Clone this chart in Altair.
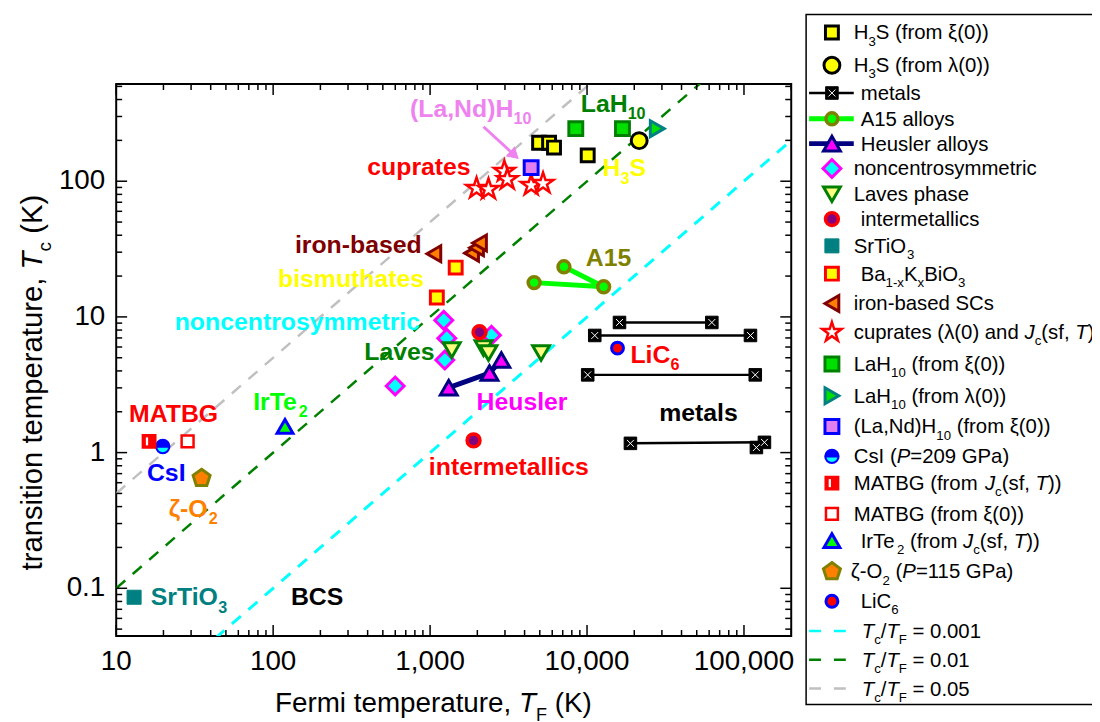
import math
import altair as alt
import pandas as pd

# ---------------- data ----------------
H3S_XI_TF = [4950, 5730, 6160, 10100]
H3S_XI_TC = [192, 192, 177, 155]
H3S_LAM_TF = [21500]
H3S_LAM_TC = [199]
METALS_TF = [[16100, 62400], [11200, 110000], [10100, 118000], [18900, 135000], [120000]]
METALS_TC = [[9.1, 9.1], [7.3, 7.3], [3.74, 3.74], [1.17, 1.19], [1.09]]
A15_TF = [4600, 12760, 7125]
A15_TC = [17.9, 16.7, 23.4]
HEUSLER_TF = [1315, 2390, 2845]
HEUSLER_TC = [3.01, 3.86, 4.81]
NONCENTRO_TF = [1222, 1277, 1241, 599, 2460]
NONCENTRO_TC = [9.44, 6.97, 4.81, 3.10, 7.33]
LAVES_TF = [1374, 2190, 2355, 5095]
LAVES_TC = [5.69, 5.89, 5.42, 5.42]
INTERMET_TF = [2065, 1892]
INTERMET_TC = [7.71, 1.23]
SRTIO3_TF = [13.0]
SRTIO3_TC = [0.0859]
BKBO_TF = [1456, 1104]
BKBO_TC = [23.1, 13.9]
IRON_TF = [1057, 1838, 1977, 2065]
IRON_TC = [29.2, 29.5, 32.3, 35.1]
CUPRATES_TF = [1977, 2355, 2973, 3105, 4405, 5245]
CUPRATES_TC = [88.7, 87.2, 118, 103, 93.3, 96.5]
LAH10_XI_TF = [8480, 16820]
LAH10_XI_TC = [244, 244]
LAH10_LAM_TF = [28000]
LAH10_LAM_TC = [244]
LANDH10_TF = [4405]
LANDH10_TC = [126]
CSI_TF = [19.8]
CSI_TC = [1.11]
MATBG_JC_TF = [16.2]
MATBG_JC_TC = [1.21]
MATBG_XI_TF = [28.5]
MATBG_XI_TC = [1.21]
IRTE2_TF = [119]
IRTE2_TC = [1.56]
ZETA_TF = [35.0]
ZETA_TC = [0.648]
LIC6_TF = [15640]
LIC6_TC = [5.89]
RATIOS = [0.001, 0.01, 0.05]
ARROW_TF = [2190, 3440]
ARROW_TC = [252, 156]

X_TICK_VALUES = [10, 100, 1000, 10000, 100000]
X_TICK_LABELS = ["10", "100", "1,000", "10,000", "100,000"]
Y_TICK_VALUES = [0.1, 1, 10, 100]
Y_TICK_LABELS = ["0.1", "1", "10", "100"]

# ---------------- layout / style ----------------
FONT = "Liberation Sans"
W, H = 680, 556
X_DOMAIN = [10, 200000]
Y_DOMAIN = [0.0445, 520]
XPD = W / math.log10(X_DOMAIN[1] / X_DOMAIN[0])
YPD = H / math.log10(Y_DOMAIN[1] / Y_DOMAIN[0])
OX, OY = 117, 82

XS = alt.Scale(type="log", domain=X_DOMAIN, nice=False)
YS = alt.Scale(type="log", domain=Y_DOMAIN, nice=False)

STAR = ("M0,-1L0.2245,-0.309L0.951,-0.309L0.363,0.118L0.588,0.809L0,0.382"
        "L-0.588,0.809L-0.363,0.118L-0.951,-0.309L-0.2245,-0.309Z")
PENTAGON = "M0,-1L0.951,-0.309L0.588,0.809L-0.588,0.809L-0.951,-0.309Z"
HALF_DISK = "M-0.85,0.2A0.87,0.87,0,0,0,0.85,0.2Z"
SLIT = "M-0.5,-0.62L-0.15,-0.62L-0.15,0.62L-0.5,0.62Z"
XPAT = "M-0.55,-0.55L0.55,0.55M-0.55,0.55L0.55,-0.55"

STYLE = {
    "H3S_XI": ("square", "#FFFF00", "#000000", 169, 3),
    "H3S_LAM": ("circle", "#FFFF00", "#000000", 256, 3),
    "METALS": ("square", "#000000", "#000000", 160, 1),
    "A15": ("circle", "#00FF00", "#808000", 144, 3.5),
    "HEUSLER": ("triangle-up", "#FF00FF", "#000080", 289, 3),
    "NONCENTRO": ("diamond", "#00FFFF", "#FF00FF", 324, 3),
    "LAVES": ("triangle-down", "#FFFF80", "#008000", 289, 3),
    "INTERMET": ("circle", "#800080", "#FF0000", 169, 3.5),
    "SRTIO3": ("square", "#008080", "#008080", 200, 1),
    "BKBO": ("square", "#FFFF00", "#FF0000", 169, 3),
    "IRON": ("triangle-left", "#FF8000", "#800000", 256, 3),
    "CUPRATES": (STAR, "#FFFFFF", "#FF0000", 480, 2.5),
    "LAH10_XI": ("square", "#00E000", "#008000", 196, 3),
    "LAH10_LAM": ("triangle-right", "#00E000", "#008080", 256, 3),
    "LANDH10": ("square", "#E080F0", "#0000FF", 196, 3),
    "CSI": ("circle", "#0000FF", "#0000FF", 169, 2.5),
    "MATBG_JC": ("square", "#FF0000", "#FF0000", 169, 2),
    "MATBG_XI": ("square", "#FFFFFF", "#FF0000", 144, 2.5),
    "IRTE2": ("triangle-up", "#00FF00", "#0000FF", 256, 3),
    "ZETA": (PENTAGON, "#FF8000", "#808000", 324, 3),
    "LIC6": ("circle", "#FF0000", "#0000FF", 144, 3),
}
LEG_SIZE = {"CUPRATES": 420}
RATIO_COLORS = ["#00FFFF", "#008000", "#C0C0C0"]

# ---------------- text width helper (Arial metrics) ----------------
REG_W = {' ': 278, '(': 333, ')': 333, ',': 278, '-': 333, '.': 278, '/': 278, '=': 584,
         'A': 667, 'B': 667, 'C': 722, 'D': 722, 'E': 667, 'F': 611, 'G': 778, 'H': 722,
         'I': 278, 'J': 500, 'K': 667, 'L': 556, 'M': 833, 'N': 722, 'O': 778, 'P': 667,
         'R': 722, 'S': 667, 'T': 611, 'U': 722, 'V': 667, 'W': 944, 'X': 667, 'Y': 667,
         'a': 556, 'b': 556, 'c': 500, 'd': 556, 'e': 556, 'f': 278, 'g': 556, 'h': 556,
         'i': 222, 'j': 222, 'k': 500, 'l': 222, 'm': 833, 'n': 556, 'o': 556, 'p': 556,
         'q': 556, 'r': 333, 's': 500, 't': 278, 'u': 556, 'v': 500, 'w': 722, 'x': 500,
         'y': 500, 'z': 500, 'ξ': 450, 'λ': 500, 'ζ': 450}
BOLD_W = {' ': 278, '(': 333, ')': 333, ',': 278, '-': 333,
          'A': 722, 'B': 722, 'C': 722, 'D': 722, 'E': 667, 'F': 611, 'G': 778, 'H': 722,
          'I': 278, 'J': 556, 'K': 722, 'L': 611, 'M': 833, 'N': 722, 'O': 778, 'P': 667,
          'R': 722, 'S': 667, 'T': 611, 'U': 722, 'V': 667, 'W': 944, 'X': 667, 'Y': 667,
          'a': 556, 'b': 611, 'c': 556, 'd': 611, 'e': 556, 'f': 333, 'g': 611, 'h': 611,
          'i': 278, 'j': 278, 'k': 556, 'l': 278, 'm': 889, 'n': 611, 'o': 611, 'p': 611,
          'q': 611, 'r': 389, 's': 556, 't': 333, 'u': 611, 'v': 556, 'w': 778, 'x': 556,
          'y': 556, 'z': 500, 'ζ': 500}


def tw(s, size, bold=False):
    table = BOLD_W if bold else REG_W
    return sum(table.get(ch, 556) for ch in s) * size / 1000.0


def layout(runs, fs, bold=False, sub_ratio=0.65, sub_shift=0.3):
    out, x = [], 0.0
    for text, kind in runs:
        sub = kind == "s"
        size = fs * sub_ratio if sub else fs
        lead = len(text) - len(text.lstrip(" "))
        out.append(dict(text=text.strip(" "), italic=(kind == "i"),
                        dx=x + tw(" " * lead, size, bold),
                        dy=fs * sub_shift if sub else 0.0, size=size))
        x += tw(text, size, bold)
    return out


# ---------------- annotations inside the plot ----------------
LABELS = [
    ([("(La,Nd)H", "n"), ("10", "s")], 745, 298, "#EE82EE"),
    ([("LaH", "n"), ("10", "s")], 9120, 324, "#008000"),
    ([("cuprates", "n")], 398, 112, "#FF0000"),
    ([("H", "n"), ("3", "s"), ("S", "n")], 12570, 108.6, "#FFFF00"),
    ([("iron-based", "n")], 137.6, 29.7, "#800000"),
    ([("bismuthates", "n")], 107.4, 16.5, "#FFFF00"),
    ([("A15", "n")], 9815, 23.8, "#808000"),
    ([("noncentrosymmetric", "n")], 23.6, 7.98, "#00FFFF"),
    ([("Laves", "n")], 381, 4.81, "#008000"),
    ([("LiC", "n"), ("6", "s")], 18900, 4.58, "#FF0000"),
    ([("Heusler", "n")], 1977, 2.07, "#FF00FF"),
    ([("metals", "n")], 28800, 1.72, "#000000"),
    ([("MATBG", "n")], 12.08, 1.69, "#FF0000"),
    ([("IrTe", "n"), ("2", "s")], 74.6, 2.07, "#00FF00"),
    ([("intermetallics", "n")], 982, 0.682, "#FF0000"),
    ([("CsI", "n")], 15.7, 0.616, "#0000FF"),
    ([("ζ-O", "n"), ("2", "s")], 21.6, 0.336, "#FF8000"),
    ([("SrTiO", "n"), ("3", "s")], 16.6, 0.0751, "#008080"),
    ([("BCS", "n")], 129.8, 0.0751, "#000000"),
]
LABEL_FS = 25

# ---------------- legend ----------------
LEGEND = [
    ("H3S_XI", [("H", "n"), ("3", "s"), ("S (from ξ(0))", "n")]),
    ("H3S_LAM", [("H", "n"), ("3", "s"), ("S (from λ(0))", "n")]),
    ("METALS", [("metals", "n")]),
    ("A15", [("A15 alloys", "n")]),
    ("HEUSLER", [("Heusler alloys", "n")]),
    ("NONCENTRO", [("noncentrosymmetric", "n")]),
    ("LAVES", [("Laves phase", "n")]),
    ("INTERMET", [("intermetallics", "n")]),
    ("SRTIO3", [("SrTiO", "n"), ("3", "s")]),
    ("BKBO", [("Ba", "n"), ("1-x", "s"), ("K", "n"), ("x", "s"), ("BiO", "n"), ("3", "s")]),
    ("IRON", [("iron-based SCs", "n")]),
    ("CUPRATES", [("cuprates (λ(0) and ", "n"), ("J", "i"), ("c", "s"), ("(sf, ", "n"), ("T", "i"), (")", "n")]),
    ("LAH10_XI", [("LaH", "n"), ("10", "s"), (" (from ξ(0))", "n")]),
    ("LAH10_LAM", [("LaH", "n"), ("10", "s"), (" (from λ(0))", "n")]),
    ("LANDH10", [("(La,Nd)H", "n"), ("10", "s"), (" (from ξ(0))", "n")]),
    ("CSI", [("CsI (", "n"), ("P", "i"), ("=209 GPa)", "n")]),
    ("MATBG_JC", [("MATBG (from ", "n"), ("J", "i"), ("c", "s"), ("(sf, ", "n"), ("T", "i"), ("))", "n")]),
    ("MATBG_XI", [("MATBG (from ξ(0))", "n")]),
    ("IRTE2", [("IrTe", "n"), ("2", "s"), (" (from ", "n"), ("J", "i"), ("c", "s"), ("(sf, ", "n"), ("T", "i"), ("))", "n")]),
    ("ZETA", [("ζ-O", "n"), ("2", "s"), (" (", "n"), ("P", "i"), ("=115 GPa)", "n")]),
    ("LIC6", [("LiC", "n"), ("6", "s")]),
    ("R0", [("T", "i"), ("c", "s"), ("/", "n"), ("T", "i"), ("F", "s"), (" = 0.001", "n")]),
    ("R1", [("T", "i"), ("c", "s"), ("/", "n"), ("T", "i"), ("F", "s"), (" = 0.01", "n")]),
    ("R2", [("T", "i"), ("c", "s"), ("/", "n"), ("T", "i"), ("F", "s"), (" = 0.05", "n")]),
]
LEG_Y_PAGE = [30, 63, 91, 117, 142, 167, 193, 218, 245, 273, 303, 332, 364, 396, 427,
              457, 484, 515, 542, 573, 603, 633, 662, 691]
LEG_TX_PAGE = [860, 860, 867, 867, 867, 860, 860, 867, 860, 867, 860, 860, 860, 860, 860,
               860, 860, 860, 867, 857, 867, 868, 868, 868]
LEG_SYM_X = 838 - OX
LEG_FS = 20.5
LEG_LINES = {"METALS": ("#000000", 2.5), "A15": ("#00FF00", 5), "HEUSLER": ("#000080", 5)}

# ---------------- build tables ----------------
SERIES = [
    ("A15", A15_TF, A15_TC), ("HEUSLER", HEUSLER_TF, HEUSLER_TC),
    ("NONCENTRO", NONCENTRO_TF, NONCENTRO_TC), ("LAVES", LAVES_TF, LAVES_TC),
    ("INTERMET", INTERMET_TF, INTERMET_TC), ("SRTIO3", SRTIO3_TF, SRTIO3_TC),
    ("BKBO", BKBO_TF, BKBO_TC), ("IRON", IRON_TF, IRON_TC),
    ("CUPRATES", CUPRATES_TF, CUPRATES_TC), ("LANDH10", LANDH10_TF, LANDH10_TC),
    ("H3S_XI", H3S_XI_TF, H3S_XI_TC), ("H3S_LAM", H3S_LAM_TF, H3S_LAM_TC),
    ("LAH10_XI", LAH10_XI_TF, LAH10_XI_TC), ("LAH10_LAM", LAH10_LAM_TF, LAH10_LAM_TC),
    ("CSI", CSI_TF, CSI_TC), ("MATBG_JC", MATBG_JC_TF, MATBG_JC_TC),
    ("MATBG_XI", MATBG_XI_TF, MATBG_XI_TC), ("IRTE2", IRTE2_TF, IRTE2_TC),
    ("ZETA", ZETA_TF, ZETA_TC), ("LIC6", LIC6_TF, LIC6_TC),
    ("METALS", sum(METALS_TF, []), sum(METALS_TC, [])),
]

pt_rows = []
for key, xs, ys in SERIES:
    shape, fill, stroke, size, sw = STYLE[key]
    for x, y in zip(xs, ys):
        pt_rows.append(dict(TF=x, Tc=y, shape=shape, fill=fill, stroke=stroke, size=size, sw=sw, angle=0))
pt_rows.append(dict(TF=ARROW_TF[1], Tc=ARROW_TC[1], shape="triangle-right", fill="#EE82EE",
                    stroke="#EE82EE", size=140, sw=1, angle=42))
points = pd.DataFrame(pt_rows)

overlay = pd.DataFrame([
    dict(TF=CSI_TF[0], Tc=CSI_TC[0], shape=HALF_DISK, fill="#00FFFF", size=169),
    dict(TF=MATBG_JC_TF[0], Tc=MATBG_JC_TC[0], shape=SLIT, fill="#FFFFFF", size=169),
])
xpat = pd.DataFrame(dict(TF=sum(METALS_TF, []), Tc=sum(METALS_TC, [])))

ln_rows = []
for g, (xs, ys) in enumerate(zip(METALS_TF, METALS_TC)):
    for k, (x, y) in enumerate(zip(xs, ys)):
        ln_rows.append(dict(TF=x, Tc=y, grp=f"m{g}", ord=k, color="#000000", w=2.5))
for k, (x, y) in enumerate(zip(A15_TF, A15_TC)):
    ln_rows.append(dict(TF=x, Tc=y, grp="a15", ord=k, color="#00FF00", w=5))
for k, (x, y) in enumerate(zip(HEUSLER_TF, HEUSLER_TC)):
    ln_rows.append(dict(TF=x, Tc=y, grp="heusler", ord=k, color="#000080", w=5))
for k, (x, y) in enumerate(zip(ARROW_TF, ARROW_TC)):
    ln_rows.append(dict(TF=x, Tc=y, grp="arrow", ord=k, color="#EE82EE", w=3))
conn = pd.DataFrame(ln_rows)

lab_rows = []
for runs, x0, y0, color in LABELS:
    for it in layout(runs, LABEL_FS, bold=True):
        lab_rows.append(dict(TF=x0 * 10 ** (it["dx"] / XPD), Tc=y0 * 10 ** (-it["dy"] / YPD),
                             text=it["text"], size=it["size"], color=color))
labels = pd.DataFrame(lab_rows)

# pixel-space texts: legend and axis titles
px_rows = []
for i, (key, runs) in enumerate(LEGEND):
    bx = LEG_TX_PAGE[i] - OX
    by = LEG_Y_PAGE[i] - OY + 7
    for it in layout(runs, LEG_FS, sub_shift=0.3):
        px_rows.append(dict(x=bx + it["dx"], y=by + it["dy"], text=it["text"], size=it["size"],
                            italic=it["italic"], angle=0, color="#000000"))
for it in layout([("Fermi temperature, ", "n"), ("T", "i"), ("F", "s"), (" (K)", "n")], 28, sub_shift=0.3):
    px_rows.append(dict(x=160 + it["dx"], y=633 + it["dy"], text=it["text"], size=it["size"],
                        italic=it["italic"], angle=0, color="#000000"))
for it in layout([("transition temperature, ", "n"), ("T", "i"), ("c", "s"), (" (K)", "n")], 29.5, sub_shift=0.3):
    px_rows.append(dict(x=-75 + it["dy"], y=490 - it["dx"], text=it["text"], size=it["size"],
                        italic=it["italic"], angle=270, color="#000000"))
pxt = pd.DataFrame(px_rows)

leg_sym_rows, leg_ov_rows, leg_x_rows, leg_line_rows, leg_dash_rows = [], [], [], [], []
for i, (key, runs) in enumerate(LEGEND):
    cy = LEG_Y_PAGE[i] - OY
    if key.startswith("R"):
        leg_dash_rows.append(dict(x=815 - OX, x2=852 - OX, y=cy, color=RATIO_COLORS[int(key[1])]))
        continue
    if key in LEG_LINES:
        c, w = LEG_LINES[key]
        leg_line_rows.append(dict(x=815 - OX, x2=860 - OX, y=cy, color=c, w=w))
    shape, fill, stroke, size, sw = STYLE[key]
    leg_sym_rows.append(dict(x=LEG_SYM_X, y=cy, shape=shape, fill=fill, stroke=stroke,
                             size=LEG_SIZE.get(key, size), sw=sw))
    if key == "CSI":
        leg_ov_rows.append(dict(x=LEG_SYM_X, y=cy, shape=HALF_DISK, fill="#00FFFF", size=169))
    if key == "MATBG_JC":
        leg_ov_rows.append(dict(x=LEG_SYM_X, y=cy, shape=SLIT, fill="#FFFFFF", size=169))
    if key == "METALS":
        leg_x_rows.append(dict(x=LEG_SYM_X, y=cy))
leg_sym = pd.DataFrame(leg_sym_rows)
leg_ov = pd.DataFrame(leg_ov_rows)
leg_x = pd.DataFrame(leg_x_rows)
leg_line = pd.DataFrame(leg_line_rows)
leg_dash = pd.DataFrame(leg_dash_rows)
leg_box = pd.DataFrame([dict(x=695, x2=1010, y=-70, y2=625)])

# ticks (inward, on all four sides)
MAJ, MIN = 11, 6
xt_rows, yt_rows = [], []
for e in range(1, 6):
    for k in range(1, 10):
        v = k * 10 ** e
        if X_DOMAIN[0] <= v <= X_DOMAIN[1]:
            L = MAJ if k == 1 else MIN
            xt_rows += [dict(v=v, a=H, b=H - L), dict(v=v, a=0, b=L)]
for e in range(-2, 3):
    for k in range(1, 10):
        v = k * 10.0 ** e
        if Y_DOMAIN[0] <= v <= Y_DOMAIN[1]:
            L = MAJ if k == 1 else MIN
            yt_rows += [dict(v=v, a=0, b=L), dict(v=v, a=W, b=W - L)]
xticks = pd.DataFrame(xt_rows)
yticks = pd.DataFrame(yt_rows)
xlab = pd.DataFrame(dict(v=X_TICK_VALUES, text=X_TICK_LABELS, y=[H + 34] * len(X_TICK_VALUES)))
ylab = pd.DataFrame(dict(v=Y_TICK_VALUES, text=Y_TICK_LABELS, x=[-11] * len(Y_TICK_VALUES)))


# ---------------- chart ----------------
def X(f="TF"):
    return alt.X(f"{f}:Q", scale=XS, axis=None)


def Y(f="Tc"):
    return alt.Y(f"{f}:Q", scale=YS, axis=None)


def PX(f="x"):
    return alt.X(f"{f}:Q", scale=None, axis=None)


def PY(f="y"):
    return alt.Y(f"{f}:Q", scale=None, axis=None)


layers = []
for i, r in enumerate(RATIOS):
    df = pd.DataFrame(dict(TF=X_DOMAIN, Tc=[r * X_DOMAIN[0], r * X_DOMAIN[1]]))
    layers.append(alt.Chart(df).mark_line(clip=True, color=RATIO_COLORS[i],
                                          strokeWidth=3 if i == 0 else 2.5,
                                          strokeDash=[12, 10]).encode(x=X(), y=Y()))

layers.append(alt.Chart(conn).mark_line().encode(
    x=X(), y=Y(), detail="grp:N", order="ord:Q",
    color=alt.Color("color:N", scale=None), strokeWidth=alt.StrokeWidth("w:Q", scale=None)))

layers.append(alt.Chart(points).mark_point(filled=True, opacity=1).encode(
    x=X(), y=Y(), shape=alt.Shape("shape:N", scale=None), fill=alt.Fill("fill:N", scale=None),
    stroke=alt.Stroke("stroke:N", scale=None), size=alt.Size("size:Q", scale=None),
    strokeWidth=alt.StrokeWidth("sw:Q", scale=None), angle=alt.Angle("angle:Q", scale=None)))

layers.append(alt.Chart(overlay).mark_point(filled=True, opacity=1, strokeWidth=0).encode(
    x=X(), y=Y(), shape=alt.Shape("shape:N", scale=None), fill=alt.Fill("fill:N", scale=None),
    size=alt.Size("size:Q", scale=None)))

layers.append(alt.Chart(xpat).mark_point(filled=False, opacity=1, shape=XPAT, size=160,
                                         stroke="white", strokeWidth=1).encode(x=X(), y=Y()))

layers.append(alt.Chart(labels).mark_text(align="left", baseline="alphabetic", font=FONT,
                                          fontWeight="bold").encode(
    x=X(), y=Y(), text="text:N", color=alt.Color("color:N", scale=None),
    size=alt.Size("size:Q", scale=None)))

# ticks and tick labels
layers.append(alt.Chart(xticks).mark_rule(color="black", strokeWidth=1.5).encode(
    x=X("v"), y=PY("a"), y2="b:Q"))
layers.append(alt.Chart(yticks).mark_rule(color="black", strokeWidth=1.5).encode(
    y=Y("v"), x=PX("a"), x2="b:Q"))
layers.append(alt.Chart(xlab).mark_text(align="center", baseline="alphabetic", font=FONT,
                                        fontSize=28, color="black").encode(
    x=X("v"), y=PY("y"), text="text:N"))
layers.append(alt.Chart(ylab).mark_text(align="right", baseline="middle", font=FONT,
                                        fontSize=28, color="black").encode(
    y=Y("v"), x=PX("x"), text="text:N"))

# legend
layers.append(alt.Chart(leg_box).mark_rect(fill="white", stroke="black", strokeWidth=1.5).encode(
    x=PX(), x2="x2:Q", y=PY(), y2="y2:Q"))
layers.append(alt.Chart(leg_line).mark_rule().encode(
    x=PX(), x2="x2:Q", y=PY(), color=alt.Color("color:N", scale=None),
    strokeWidth=alt.StrokeWidth("w:Q", scale=None)))
layers.append(alt.Chart(leg_dash).mark_rule(strokeWidth=2.5, strokeDash=[12, 13]).encode(
    x=PX(), x2="x2:Q", y=PY(), color=alt.Color("color:N", scale=None)))
layers.append(alt.Chart(leg_sym).mark_point(filled=True, opacity=1).encode(
    x=PX(), y=PY(), shape=alt.Shape("shape:N", scale=None), fill=alt.Fill("fill:N", scale=None),
    stroke=alt.Stroke("stroke:N", scale=None), size=alt.Size("size:Q", scale=None),
    strokeWidth=alt.StrokeWidth("sw:Q", scale=None)))
layers.append(alt.Chart(leg_ov).mark_point(filled=True, opacity=1, strokeWidth=0).encode(
    x=PX(), y=PY(), shape=alt.Shape("shape:N", scale=None), fill=alt.Fill("fill:N", scale=None),
    size=alt.Size("size:Q", scale=None)))
layers.append(alt.Chart(leg_x).mark_point(filled=False, opacity=1, shape=XPAT, size=160,
                                          stroke="white", strokeWidth=1).encode(x=PX(), y=PY()))

for italic in (False, True):
    df = pxt[pxt["italic"] == italic]
    layers.append(alt.Chart(df).mark_text(align="left", baseline="alphabetic", font=FONT,
                                          fontStyle="italic" if italic else "normal").encode(
        x=PX(), y=PY(), text="text:N", color=alt.Color("color:N", scale=None),
        size=alt.Size("size:Q", scale=None), angle=alt.Angle("angle:Q", scale=None)))

chart = alt.layer(*layers).properties(
    width=W, height=H,
    autosize=alt.AutoSizeParams(type="none"),
    padding={"left": 109, "top": 74, "right": 303, "bottom": 84},
    background="white",
).configure_view(stroke="black", strokeWidth=2)

chart.save("out.html", embed_options={"renderer": "svg", "actions": False})
